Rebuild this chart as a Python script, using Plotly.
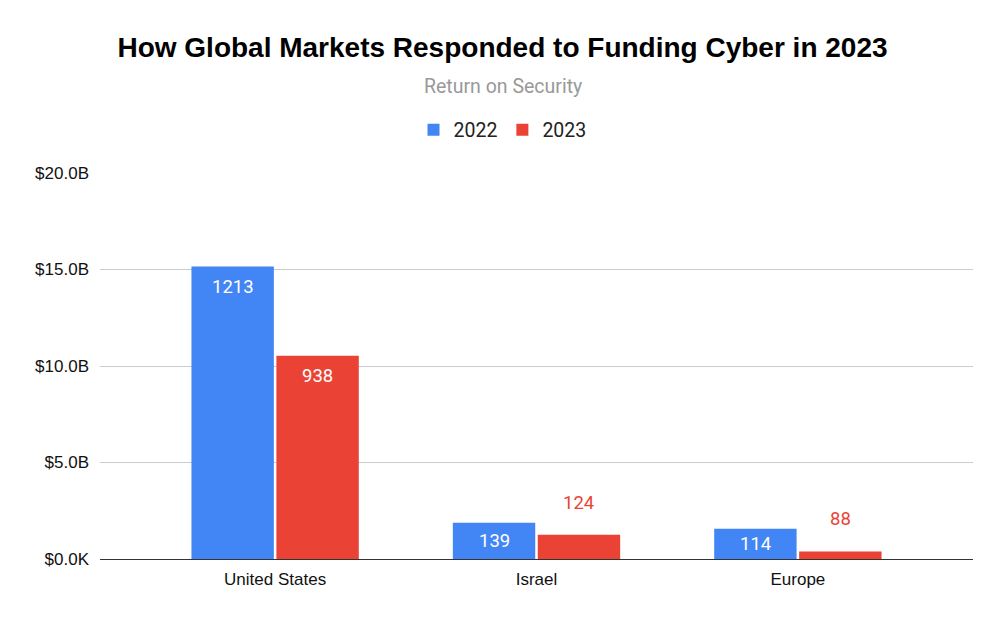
import plotly.graph_objects as go

# funding in billions of USD, labels are number of deals
regions = ['United States', 'Israel', 'Europe']
years = ['2022', '2023']
funding_2022 = [15.15, 1.88, 1.57]
funding_2023 = [10.53, 1.26, 0.39]
deals_2022 = [1213, 139, 114]
deals_2023 = [938, 124, 88]
y_ticks = [0, 5, 10, 15, 20]
y_tick_labels = ['$0.0K', '$5.0B', '$10.0B', '$15.0B', '$20.0B']

colors = {'2022': '#4285F4', '2023': '#EA4335'}

# the page puts the figure 8px in from the top left corner
W, H = 997, 613
margin = dict(l=92, r=32, t=165, b=62)
plot_h = H - margin['t'] - margin['b']
plot_w = W - margin['l'] - margin['r']
x_range = [-0.67, 2.67]
bargap = 0.35
px_per_unit = plot_h / (y_ticks[-1] - y_ticks[0])
px_per_cat = plot_w / (x_range[1] - x_range[0])
bar_offset = px_per_cat * (1 - bargap) / 4
center_x = (W / 2 - 4 - margin['l']) / plot_w

fig = go.Figure()
annotations = []
series = [(years[0], funding_2022, deals_2022, -1), (years[1], funding_2023, deals_2023, 1)]
for name, values, deals, side in series:
    fig.add_trace(go.Bar(
        x=regions, y=values, name=name,
        marker=dict(color=colors[name], line=dict(width=0)),
        hoverinfo='x+y+name',
    ))
    for region, v, d in zip(regions, values, deals):
        bar_px = v * px_per_unit
        if bar_px >= 28:
            shift, color = -min(20, bar_px / 2), 'white'
        else:
            shift, color = 32, colors[name]
        annotations.append(dict(
            x=region, y=v, xref='x', yref='y', text=str(d), showarrow=False,
            xshift=side * bar_offset, yshift=shift, yanchor='middle',
            font=dict(family='Roboto', size=18.5, color=color),
        ))

annotations.append(dict(
    x=center_x, y=(plot_h + margin['t'] - 78) / plot_h,
    xref='paper', yref='paper', text='Return on Security', showarrow=False,
    font=dict(family='Roboto', size=19.5, color='#999999'), yanchor='middle',
))

fig.update_layout(
    width=W, height=H, margin=margin,
    paper_bgcolor='white', plot_bgcolor='white',
    title=dict(
        text='<b>How Global Markets Responded to Funding Cyber in 2023</b>',
        x=(W / 2 - 4) / W, xanchor='center', y=1 - 39 / H, yanchor='middle', yref='container',
        font=dict(family='Liberation Sans, Arial', size=28, color='black'),
    ),
    legend=dict(
        orientation='h', x=center_x, xanchor='center',
        y=(plot_h + margin['t'] - 122) / plot_h, yanchor='middle',
        font=dict(family='Roboto', size=19.5, color='#222222'),
        itemwidth=30,
    ),
    barmode='group', bargap=bargap, bargroupgap=0.03,
    annotations=annotations,
    xaxis=dict(
        range=x_range, showgrid=False, showline=False, ticks='',
        tickfont=dict(family='Liberation Sans, Arial', size=17, color='#111111'),
        ticklabelstandoff=8,
    ),
    yaxis=dict(
        range=[y_ticks[0], y_ticks[-1]], tickvals=y_ticks, ticktext=y_tick_labels,
        showgrid=True, gridcolor='#cccccc', gridwidth=1,
        zeroline=True, zerolinecolor='#333333', zerolinewidth=1.3,
        tickfont=dict(family='Liberation Sans, Arial', size=17, color='#111111'),
        ticks='', ticklabelstandoff=10,
    ),
)

fig.write_html('out.html')
